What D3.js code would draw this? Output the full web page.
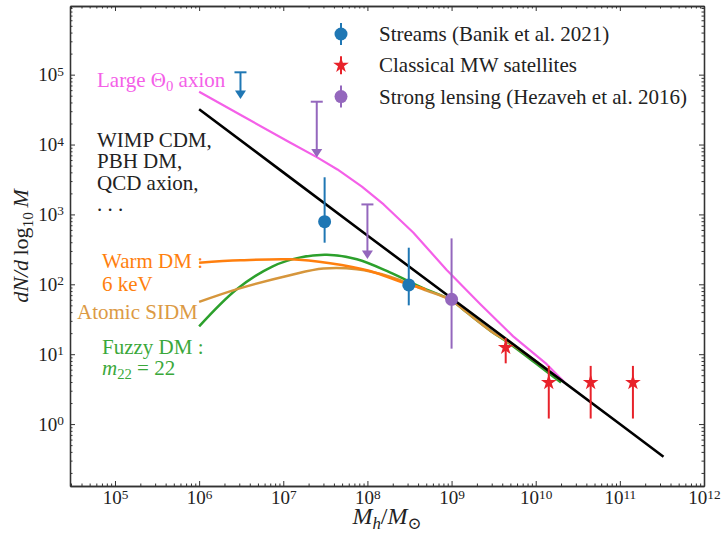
<!DOCTYPE html>
<html>
<head>
<meta charset="utf-8">
<script src="https://cdn.jsdelivr.net/npm/d3@7"></script>
<style>
body { margin: 0; background: #fff; }
svg { display: block; }
svg text { font-family: "Liberation Serif", "DejaVu Serif", "Times New Roman", serif; }
</style>
</head>
<body>
<svg id="chart" width="724" height="534"></svg>
<script>
// Subhalo mass function: [M_h / Msun, dN/dlog10 M]
const cdmCurve = [[1e6, 3.2e4], [1e7, 4.0e3], [1e8, 5.0e2], [1e9, 63], [1e10, 7.95], [1e11, 1.0], [3.3e11, 0.34]]
const axionCurve = [[1e6, 5.7e4], [3.4e6, 2.5e4], [1.2e7, 1.07e4], [2.5e7, 6.6e3], [4.4e7, 4.4e3], [8.6e7, 2.5e3],
  [1.56e8, 1.39e3], [3.5e8, 5.5e2], [8.7e8, 1.62e2], [2.2e9, 52], [5.4e9, 18], [1.35e10, 7.2], [2.2e10, 3.95]]
const warmCurve = [[1e6, 204], [3.1e6, 220], [1.2e7, 228], [3.6e7, 200], [1.07e8, 155], [2.65e8, 106], [4.9e8, 85]]
const sidmCurve = [[1e6, 56], [2.9e6, 86], [1.2e7, 135], [3.0e7, 168], [7.5e7, 164], [1.85e8, 129], [4.6e8, 85],
  [1e9, 59], [1.5e9, 40], [3e9, 21], [4.5e9, 15.5], [1e10, 7.95], [2e10, 4.25]]
const fuzzyCurve = [[1e6, 25], [2.8e6, 85], [7.5e6, 181], [1.6e7, 243], [3.3e7, 265], [7.5e7, 228], [1.85e8, 148],
  [4.6e8, 88], [1e9, 59], [1.5e9, 40], [3e9, 21], [4.5e9, 15.2], [1e10, 7.4], [2e10, 3.95]]

// Measurements: mass, value, lower and upper end of the error bar
const streamPoints = [{ m: 3.1e7, n: 787, lo: 394, hi: 3400 }, { m: 3.1e8, n: 98, lo: 50, hi: 334 }]
const streamLimits = [{ m: 3.1e6, n: 1.08e5, tip: 4.5e4 }]
const lensPoints = [{ m: 1e9, n: 61, lo: 12, hi: 454 }]
const lensLimits = [{ m: 2.5e7, n: 4.1e4, tip: 6.5e3 }, { m: 1e8, n: 1.39e3, tip: 2.3e2 }]
const satellitePoints = [{ m: 4.4e9, n: 12.5, lo: 7.4, hi: 17 }, { m: 1.43e10, n: 3.93, lo: 1.2, hi: 6.8 },
  { m: 4.5e10, n: 3.93, lo: 1.2, hi: 6.8 }, { m: 1.43e11, n: 3.93, lo: 1.2, hi: 6.8 }]

const xMajor = [1e5, 1e6, 1e7, 1e8, 1e9, 1e10, 1e11, 1e12]
const yMajor = [1, 10, 100, 1e3, 1e4, 1e5]
const legendLabels = ["Streams (Banik et al. 2021)", "Classical MW satellites", "Strong lensing (Hezaveh et al. 2016)"]

const col = {
  cdm: "#000000", axion: "#f460e8", warm: "#ff7f0e", sidm: "#d6963c", fuzzy: "#2ca02c",
  stream: "#1f77b4", sat: "#e8222a", lens: "#9467bd", axis: "#333333"
}

const padL = 70, padR = 704, padT = 6, padB = 486

const x = d3.scaleLog().domain([2.92e4, 1e12]).range([padL, padR])
const y = d3.scaleLog().domain([0.13, 9.6e5]).range([padB, padT])

const svg = d3.select("#chart")

// superscript power of ten labels
function powLabel(sel) {
  sel.each(function (d) {
    const t = d3.select(this).text(null)
    t.append("tspan").text("10")
    t.append("tspan").attr("dy", "-0.42em").attr("font-size", "0.7em").text(Math.round(Math.log10(d)))
  })
}

const xMinor = x.ticks().filter(d => !xMajor.includes(d) && Math.abs(Math.log10(d) % 1) > 1e-6)
const yMinor = y.ticks().filter(d => !yMajor.includes(d) && Math.abs(Math.log10(d) % 1) > 1e-6)

// minor ticks on all four sides
svg.append("g").attr("transform", `translate(0,${padB})`)
  .call(d3.axisBottom(x).tickValues(xMinor).tickSizeInner(-2.5).tickSizeOuter(0).tickFormat(""))
svg.append("g").attr("transform", `translate(0,${padT})`)
  .call(d3.axisTop(x).tickValues(xMinor).tickSizeInner(-2.5).tickSizeOuter(0).tickFormat(""))
svg.append("g").attr("transform", `translate(${padL},0)`)
  .call(d3.axisLeft(y).tickValues(yMinor).tickSizeInner(-2.5).tickSizeOuter(0).tickFormat(""))
svg.append("g").attr("transform", `translate(${padR},0)`)
  .call(d3.axisRight(y).tickValues(yMinor).tickSizeInner(-2.5).tickSizeOuter(0).tickFormat(""))

// major ticks
const xAxis = svg.append("g").attr("transform", `translate(0,${padB})`)
  .call(d3.axisBottom(x).tickValues(xMajor).tickSizeInner(-5).tickSizeOuter(0).tickPadding(5))
svg.append("g").attr("transform", `translate(0,${padT})`)
  .call(d3.axisTop(x).tickValues(xMajor).tickSizeInner(-5).tickSizeOuter(0).tickFormat(""))
const yAxis = svg.append("g").attr("transform", `translate(${padL},0)`)
  .call(d3.axisLeft(y).tickValues(yMajor).tickSizeInner(-5).tickSizeOuter(0).tickPadding(6))
svg.append("g").attr("transform", `translate(${padR},0)`)
  .call(d3.axisRight(y).tickValues(yMajor).tickSizeInner(-5).tickSizeOuter(0).tickFormat(""))

svg.selectAll(".domain").attr("stroke", col.axis).attr("stroke-width", 1.3)
svg.selectAll(".tick line").attr("stroke", col.axis).attr("stroke-width", 1)
svg.selectAll("g").attr("font-family", null)
xAxis.selectAll(".tick text").attr("font-size", 19).attr("fill", "#222").call(powLabel)
yAxis.selectAll(".tick text").attr("font-size", 19).attr("fill", "#222").call(powLabel)

// model curves
const line = d3.line().x(d => x(d[0])).y(d => y(d[1]))
const smooth = d3.line().x(d => x(d[0])).y(d => y(d[1])).curve(d3.curveCatmullRom)

function drawCurve(data, gen, color, width) {
  svg.append("path").datum(data).attr("d", gen).attr("fill", "none")
    .attr("stroke", color).attr("stroke-width", width).attr("stroke-linejoin", "round")
}
drawCurve(fuzzyCurve, smooth, col.fuzzy, 2.5)
drawCurve(sidmCurve, smooth, col.sidm, 2.5)
drawCurve(warmCurve, smooth, col.warm, 2.5)
drawCurve(axionCurve, line, col.axion, 2.2)
drawCurve(cdmCurve, line, col.cdm, 2.6)

// error bars and markers
function errorBars(data, color) {
  svg.append("g").selectAll("line").data(data).join("line")
    .attr("x1", d => x(d.m)).attr("x2", d => x(d.m))
    .attr("y1", d => y(d.lo)).attr("y2", d => y(d.hi))
    .attr("stroke", color).attr("stroke-width", 2)
}
function upperLimits(data, color) {
  const g = svg.append("g").selectAll("g").data(data).join("g")
  g.append("line").attr("x1", d => x(d.m)).attr("x2", d => x(d.m))
    .attr("y1", d => y(d.n)).attr("y2", d => y(d.tip) - 4)
    .attr("stroke", color).attr("stroke-width", 2)
  g.append("line").attr("x1", d => x(d.m) - 6).attr("x2", d => x(d.m) + 6)
    .attr("y1", d => y(d.n)).attr("y2", d => y(d.n))
    .attr("stroke", color).attr("stroke-width", 2)
  g.append("path")
    .attr("d", d => `M${x(d.m)},${y(d.tip)}l-5.5,-8.5h11z`)
    .attr("fill", color)
}
const circle = d3.symbol().type(d3.symbolCircle).size(Math.PI * 6.5 * 6.5)
const star = d3.symbol().type(d3.symbolStar).size(76)

upperLimits(streamLimits, col.stream)
upperLimits(lensLimits, col.lens)
errorBars(streamPoints, col.stream)
errorBars(lensPoints, col.lens)
errorBars(satellitePoints, col.sat)

svg.append("g").selectAll("path").data(streamPoints).join("path")
  .attr("d", circle).attr("transform", d => `translate(${x(d.m)},${y(d.n)})`).attr("fill", col.stream)
svg.append("g").selectAll("path").data(lensPoints).join("path")
  .attr("d", circle).attr("transform", d => `translate(${x(d.m)},${y(d.n)})`).attr("fill", col.lens)
svg.append("g").selectAll("path").data(satellitePoints).join("path")
  .attr("d", star).attr("transform", d => `translate(${x(d.m)},${y(d.n)})`).attr("fill", col.sat)

// legend
const legend = svg.append("g").attr("transform", "translate(341,34)")
const legendItems = [
  { color: col.stream, sym: circle, err: 11 },
  { color: col.sat, sym: star, err: 9 },
  { color: col.lens, sym: circle, err: 11 }
]
legendItems.forEach((it, i) => {
  const gy = i * 31.3
  legend.append("line").attr("x1", 0).attr("x2", 0).attr("y1", gy - it.err).attr("y2", gy + it.err)
    .attr("stroke", it.color).attr("stroke-width", 2)
  legend.append("path").attr("d", it.sym).attr("transform", `translate(0,${gy})`).attr("fill", it.color)
  legend.append("text").attr("x", 38).attr("y", gy + 7).attr("font-size", 21).attr("fill", "#222")
    .text(legendLabels[i])
})

// annotations
function label(xp, yp, color, parts) {
  const t = svg.append("text").attr("x", xp).attr("y", yp).attr("font-size", 21).attr("fill", color)
  parts.forEach(p => {
    const s = t.append("tspan").text(p.t)
    if (p.sub) s.attr("font-size", "0.7em").attr("dy", "0.3em")
    if (p.back) s.attr("dy", "-0.21em")
    if (p.it) s.attr("font-style", "italic")
  })
  return t
}
label(97, 87, col.axion, [{ t: "Large Θ" }, { t: "0", sub: true }, { t: " axion", back: true }])
label(97, 147, "#222", [{ t: "WIMP CDM," }])
label(97, 168, "#222", [{ t: "PBH DM," }])
label(97, 189.5, "#222", [{ t: "QCD axion," }])
label(97, 210.5, "#222", [{ t: ". . ." }])
label(102, 268, col.warm, [{ t: "Warm DM :" }])
label(102, 291, col.warm, [{ t: "6 keV" }])
label(77, 319, "#dc9a44", [{ t: "Atomic SIDM" }])
label(102, 353.5, "#3aa83a", [{ t: "Fuzzy DM :" }])
label(102, 375, "#3aa83a", [{ t: "m", it: true }, { t: "22", sub: true }, { t: " = 22", back: true }])

// axis titles
const yl = svg.append("text").attr("transform", `translate(28,${(padT + padB) / 2}) rotate(-90)`)
  .attr("text-anchor", "middle").attr("font-size", 22).attr("fill", "#222")
yl.append("tspan").attr("font-style", "italic").text("dN/d")
yl.append("tspan").text("\u2009log")
yl.append("tspan").attr("font-size", "0.7em").attr("dy", "0.3em").text("10")
yl.append("tspan").attr("dy", "-0.21em").attr("font-style", "italic").text("\u2009M")

const xl = svg.append("text").attr("x", (padL + padR) / 2).attr("y", 524)
  .attr("text-anchor", "middle").attr("font-size", 24).attr("fill", "#222")
xl.append("tspan").attr("font-style", "italic").text("M")
xl.append("tspan").attr("font-size", "0.7em").attr("dy", "0.3em").attr("font-style", "italic").text("h")
xl.append("tspan").attr("dy", "-0.21em").text("/")
xl.append("tspan").attr("font-style", "italic").text("M")
xl.append("tspan").attr("font-size", "0.7em").attr("dy", "0.3em").text("⊙")
</script>
</body>
</html>
